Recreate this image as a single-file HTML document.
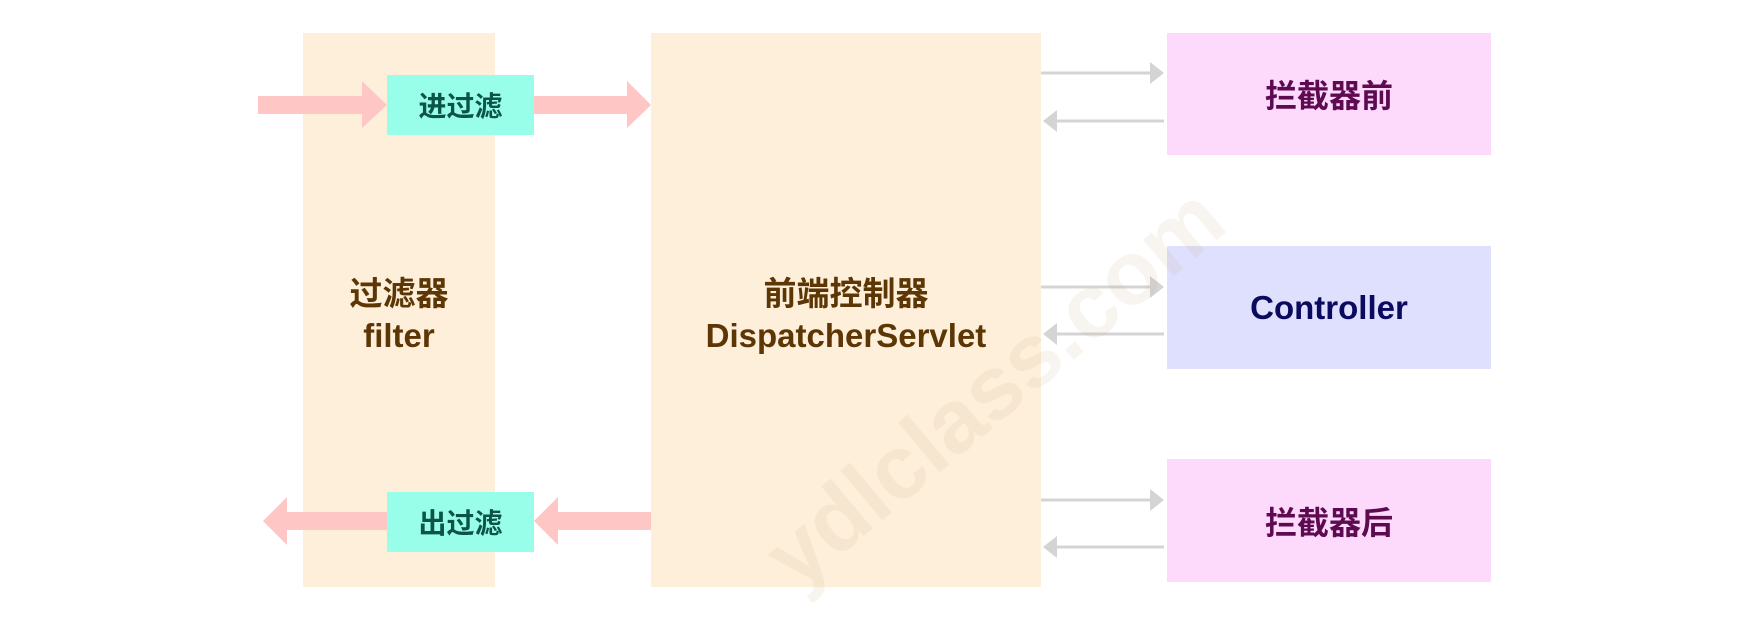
<!DOCTYPE html>
<html><head><meta charset="utf-8"><style>
body{margin:0;width:1749px;height:618px;background:#fff;position:relative;overflow:hidden;font-family:"Liberation Sans","Noto Sans CJK SC",sans-serif;font-weight:bold}
.a{position:absolute}
.t{display:flex;align-items:center;justify-content:center;text-align:center}
</style></head><body>
<div class="a" style="left:303px;top:33px;width:192px;height:554px;background:#feefdb"></div>
<div class="a" style="left:651px;top:33px;width:390px;height:554px;background:#feefdb"></div>
<svg class="a" style="left:0;top:0" width="1749" height="618">
<g fill="#fec6c4">
<rect x="258" y="96" width="106" height="18"/><polygon points="362,81 387,105 362,128"/>
<rect x="534" y="96" width="95" height="18"/><polygon points="627,81 651,105 627,128"/>
<rect x="556" y="512" width="95" height="18"/><polygon points="558,497 534,521 558,545"/>
<rect x="285" y="512" width="102" height="18"/><polygon points="287,497 263,521 287,545"/>
</g>
<g stroke="#d4d4d4" stroke-width="3" fill="#d4d4d4">
<line x1="1041" y1="73" x2="1152" y2="73"/><polygon stroke="none" points="1150,62 1164,73 1150,84"/>
<line x1="1056" y1="121" x2="1164" y2="121"/><polygon stroke="none" points="1057,110 1043,121 1057,132"/>
<line x1="1041" y1="287" x2="1152" y2="287"/><polygon stroke="none" points="1150,276 1164,287 1150,298"/>
<line x1="1056" y1="334" x2="1164" y2="334"/><polygon stroke="none" points="1057,323 1043,334 1057,345"/>
<line x1="1041" y1="500" x2="1152" y2="500"/><polygon stroke="none" points="1150,489 1164,500 1150,511"/>
<line x1="1056" y1="547" x2="1164" y2="547"/><polygon stroke="none" points="1057,536 1043,547 1057,558"/>
</g>
</svg>
<div class="a t" style="left:387px;top:75px;width:147px;height:60px;background:#99fee9;color:#0c5448;font-size:28px">进过滤</div>
<div class="a t" style="left:387px;top:492px;width:147px;height:60px;background:#99fee9;color:#0c5448;font-size:28px">出过滤</div>
<div class="a t" style="left:303px;top:270px;width:192px;height:90px;color:#5c3604;font-size:33px;line-height:42px">过滤器<br>filter</div>
<div class="a t" style="left:651px;top:270px;width:390px;height:90px;color:#5c3604;font-size:33px;line-height:42px">前端控制器<br>DispatcherServlet</div>
<div class="a t" style="left:1167px;top:33px;width:324px;height:122px;background:#fdd9fb;color:#5e0a51;font-size:32px">拦截器前</div>
<div class="a t" style="left:1167px;top:246px;width:324px;height:123px;background:#dfdffe;color:#0a0a5e;font-size:33px">Controller</div>
<div class="a t" style="left:1167px;top:459px;width:324px;height:123px;background:#fdd9fb;color:#5e0a51;font-size:32px">拦截器后</div>
<div class="a" style="font-size:90px;color:rgba(200,170,130,0.13);transform:rotate(-40deg);transform-origin:left top;white-space:nowrap;top:530px;left:745px">ydlclass.com</div>
</body></html>
